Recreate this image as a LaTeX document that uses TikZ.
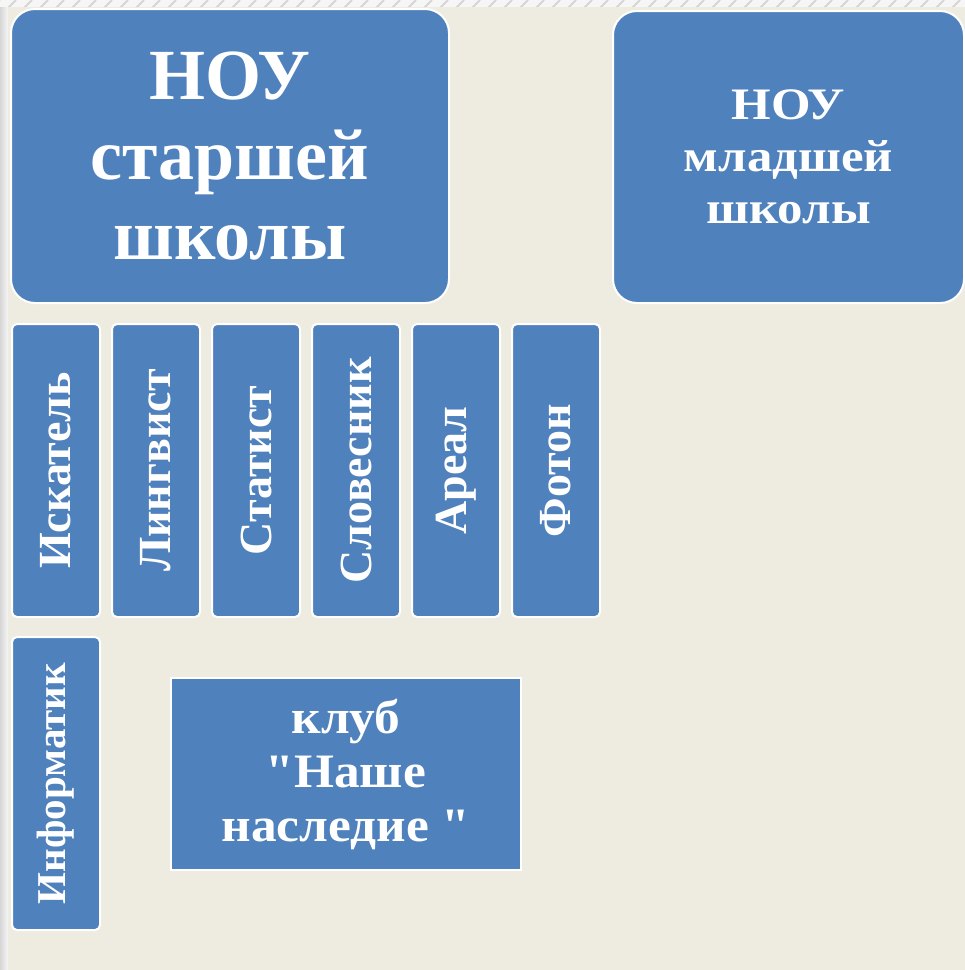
\documentclass[tikz,border=0pt]{standalone}
\usepackage{fontspec}
\setmainfont{Liberation Serif}[Ligatures=TeXOff]
\newfontfamily\widefont{Liberation Serif}[Ligatures=TeXOff, FakeStretch=1.13]
\newfontfamily\clubfont{Liberation Serif}[Ligatures=TeXOff, FakeStretch=1.07]
\usepackage{graphicx}
\usepackage{tikz}
\usetikzlibrary{positioning}
\definecolor{boxblue}{RGB}{79,129,189}
\definecolor{paper}{RGB}{238,236,225}
\definecolor{edgegray}{RGB}{246,246,246}
\definecolor{stripegray}{RGB}{214,214,214}
\newcommand{\vtext}[1]{\rotatebox{90}{#1}}
\tikzset{
  bigbox/.style={draw=white, line width=2pt, fill=boxblue, rounded corners=24pt,
    align=center, text=white, font=\bfseries\fontsize{72}{80}\selectfont, anchor=north west},
  clubbox/.style={draw=white, line width=2pt, fill=boxblue, rounded corners=5pt,
    minimum width=88pt, minimum height=293pt, inner sep=0pt, text=white,
    font=\bfseries\fontsize{46}{50}\selectfont},
  heritagebox/.style={draw=white, line width=2pt, fill=boxblue, align=center,
    minimum width=350pt, minimum height=192pt, text=white,
    font=\clubfont\bfseries\fontsize{48}{54}\selectfont}
}
\begin{document}
\begin{tikzpicture}[x=1pt, y=1pt, node distance=10pt and 10pt]
\useasboundingbox (0,0) rectangle (965,-970);
% page edge
\fill[edgegray] (0,0) rectangle (965,-970);
\begin{scope}
  \clip (0,0) rectangle (965,-7);
  \foreach \k in {0,16,...,980} \draw[stripegray, line width=2pt] (\k,0) -- (\k-8,-8);
\end{scope}
\shade[left color=stripegray, right color=edgegray] (0,-7) rectangle (8,-970);
\fill[paper] (8,-7) rectangle (965,-970);

% top row
\node[bigbox, minimum width=438pt, minimum height=294pt] (senior) at (10,-8)
  {НОУ\\старшей\\школы};
\node[bigbox, minimum width=351pt, minimum height=292pt,
  font=\widefont\bfseries\fontsize{45}{52}\selectfont] (junior) at (612,-10)
  {НОУ\\младшей\\школы};

% clubs
\node[clubbox, below=19pt of senior.south west, anchor=north west, xshift=1pt] (isk) {\vtext{Искатель}};
\node[clubbox, right=of isk] (ling) {\vtext{Лингвист}};
\node[clubbox, right=of ling] (stat) {\vtext{Статист}};
\node[clubbox, right=of stat] (slov) {\vtext{Словесник}};
\node[clubbox, right=of slov] (areal) {\vtext{Ареал}};
\node[clubbox, right=of areal] (foton) {\vtext{Фотон}};
\node[clubbox, below=18pt of isk, font=\bfseries\fontsize{41}{44}\selectfont] (inform) {\vtext{Информатик}};

\node[heritagebox, right=69pt of inform.north east, anchor=north west, yshift=-41pt] (heritage)
  {клуб\\"Наше\\наследие "};
\end{tikzpicture}
\end{document}
